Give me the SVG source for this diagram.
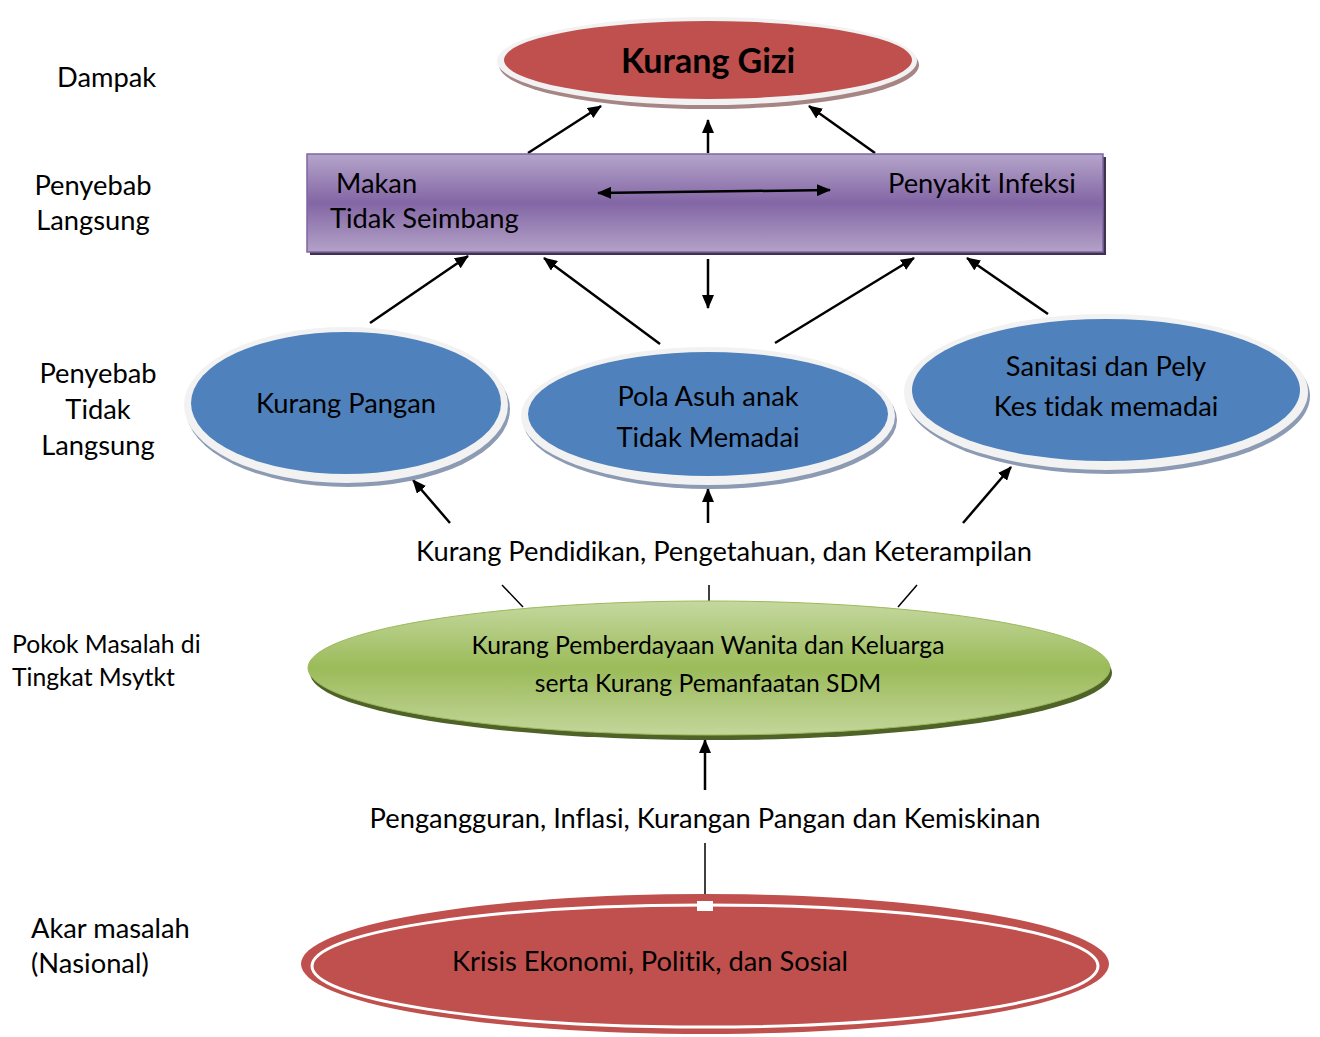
<svg xmlns="http://www.w3.org/2000/svg" width="1320" height="1037" viewBox="0 0 1320 1037">
<style>
text{font-family:Lato,"Open Sans","Liberation Sans",sans-serif;fill:#000;font-variant-ligatures:none;font-feature-settings:"liga" 0,"clig" 0}
.lbl{font-size:27.3px}
.sm{font-size:24.7px}
.mid{text-anchor:middle}
.con{stroke:#000;stroke-width:2.5;fill:none}
.thin{stroke-width:1.5}
.rim{fill:#f2f2f2}
</style>
<defs>
<marker id="ah" viewBox="0 0 14 12" refX="13" refY="6" markerWidth="14" markerHeight="12" markerUnits="userSpaceOnUse" orient="auto-start-reverse">
<path d="M0,0 L14,6 L0,12 Z" fill="#000"/>
</marker>
<linearGradient id="purp" x1="0" y1="0" x2="0" y2="1">
<stop offset="0" stop-color="#b5a5ca"/>
<stop offset="0.5" stop-color="#8366a5"/>
<stop offset="1" stop-color="#b3a2c7"/>
</linearGradient>
<linearGradient id="grn" x1="0" y1="0" x2="0" y2="1">
<stop offset="0" stop-color="#c5d8a0"/>
<stop offset="0.5" stop-color="#9bbb59"/>
<stop offset="1" stop-color="#c3d69b"/>
</linearGradient>
</defs>

<g id="labels">
<text class="lbl" x="57" y="87">Dampak</text>
<text class="lbl mid" x="93" y="195">Penyebab</text>
<text class="lbl mid" x="93" y="230">Langsung</text>
<text class="lbl mid" x="98" y="383">Penyebab</text>
<text class="lbl mid" x="98" y="419">Tidak</text>
<text class="lbl mid" x="98" y="455">Langsung</text>
<text class="sm" x="12" y="653">Pokok Masalah di</text>
<text class="sm" x="12" y="686">Tingkat Msytkt</text>
<text class="lbl" x="31" y="938">Akar masalah</text>
<text class="lbl" x="31" y="973">(Nasional)</text>
</g>

<g id="connectors">
<line class="con" x1="528" y1="153" x2="601" y2="106" marker-end="url(#ah)"/>
<line class="con" x1="708" y1="153" x2="708" y2="120" marker-end="url(#ah)"/>
<line class="con" x1="875" y1="153" x2="809" y2="106" marker-end="url(#ah)"/>
<line class="con" x1="370" y1="323" x2="468" y2="256" marker-end="url(#ah)"/>
<line class="con" x1="660" y1="344" x2="544" y2="258" marker-end="url(#ah)"/>
<line class="con" x1="708" y1="259" x2="708" y2="308" marker-end="url(#ah)"/>
<line class="con" x1="775" y1="343" x2="914" y2="258" marker-end="url(#ah)"/>
<line class="con" x1="1048" y1="314" x2="967" y2="258" marker-end="url(#ah)"/>
<line class="con" x1="450" y1="523" x2="413" y2="480" marker-end="url(#ah)"/>
<line class="con" x1="708" y1="523" x2="708" y2="489" marker-end="url(#ah)"/>
<line class="con" x1="963" y1="523" x2="1011" y2="467" marker-end="url(#ah)"/>
<line class="con thin" x1="502" y1="585" x2="523" y2="607"/>
<line class="con thin" x1="709" y1="585" x2="709" y2="601"/>
<line class="con thin" x1="917" y1="585" x2="898" y2="607"/>
<line class="con" x1="705" y1="790" x2="705" y2="740" marker-end="url(#ah)"/>
<line class="con thin" x1="705" y1="843" x2="705" y2="894"/>
</g>

<g id="kurang-gizi">
<ellipse cx="709" cy="65" rx="210" ry="44" fill="#a88585"/>
<ellipse class="rim" cx="707" cy="61" rx="210" ry="44"/>
<ellipse cx="708" cy="60" rx="204" ry="39" fill="#c0504d"/>
<text class="mid" x="708" y="73" style="font-size:34px;font-weight:bold">Kurang Gizi</text>
</g>

<g id="penyebab-langsung">
<rect x="310" y="157" width="796" height="98" fill="#3f3151"/>
<rect x="307" y="154" width="796" height="98" fill="url(#purp)" stroke="#8064a2" stroke-width="1.5"/>
<text class="lbl" x="336" y="193">Makan</text>
<text class="lbl" x="330" y="228">Tidak Seimbang</text>
<text class="lbl" x="888" y="193">Penyakit Infeksi</text>
<line class="con" x1="598" y1="193" x2="830" y2="190" marker-start="url(#ah)" marker-end="url(#ah)"/>
</g>

<g id="kurang-pangan">
<ellipse cx="348" cy="409" rx="162" ry="78" fill="#8c9bb3"/>
<ellipse class="rim" cx="346" cy="405" rx="162" ry="78"/>
<ellipse cx="346" cy="403" rx="155" ry="71" fill="#4f81bd"/>
<text class="lbl mid" x="346" y="413">Kurang Pangan</text>
</g>

<g id="pola-asuh">
<ellipse cx="710" cy="420" rx="187" ry="69" fill="#8c9bb3"/>
<ellipse class="rim" cx="708" cy="416" rx="187" ry="69"/>
<ellipse cx="708" cy="414" rx="180" ry="62" fill="#4f81bd"/>
<text class="lbl mid" x="708" y="406">Pola Asuh anak</text>
<text class="lbl mid" x="708" y="447">Tidak Memadai</text>
</g>

<g id="sanitasi">
<ellipse cx="1108" cy="396" rx="202" ry="78" fill="#8c9bb3"/>
<ellipse class="rim" cx="1106" cy="392" rx="202" ry="78"/>
<ellipse cx="1106" cy="390" rx="194" ry="71" fill="#4f81bd"/>
<text class="lbl mid" x="1106" y="376">Sanitasi dan Pely</text>
<text class="lbl mid" x="1106" y="416">Kes tidak memadai</text>
</g>

<g id="pendidikan">
<text class="lbl mid" x="724" y="561">Kurang Pendidikan, Pengetahuan, dan Keterampilan</text>
</g>

<g id="pemberdayaan">
<ellipse cx="711" cy="673" rx="401" ry="67" fill="#4f6228"/>
<ellipse cx="709" cy="668" rx="401" ry="67" fill="url(#grn)" stroke="#9bbb59" stroke-width="1"/>
<text class="sm mid" x="708" y="654">Kurang Pemberdayaan Wanita dan Keluarga</text>
<text class="sm mid" x="708" y="692">serta Kurang Pemanfaatan SDM</text>
</g>

<g id="pengangguran">
<text class="lbl mid" x="705" y="828">Pengangguran, Inflasi, Kurangan Pangan dan Kemiskinan</text>
</g>

<g id="krisis">
<ellipse cx="705" cy="964" rx="404" ry="70" fill="#c0504d"/>
<ellipse cx="705" cy="966" rx="393" ry="61" fill="none" stroke="#fff" stroke-width="3"/>
<rect x="697" y="901" width="16" height="10" fill="#fff"/>
<text class="lbl" x="452" y="971">Krisis Ekonomi, Politik, dan Sosial</text>
</g>
</svg>
